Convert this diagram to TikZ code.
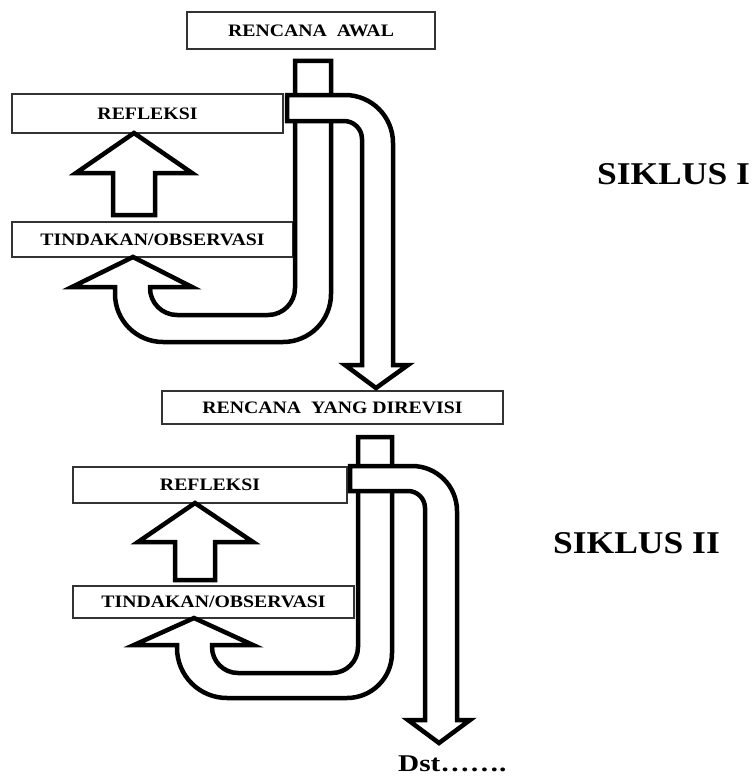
\documentclass[tikz,border=0pt]{standalone}
\usepackage{fontspec}
\setmainfont{Liberation Serif}
\tikzset{
  box/.style={draw=black!80, line width=1.4pt, fill=white, inner sep=0pt,
    text height=11.6pt, text depth=0pt, font=\bfseries\fontsize{17.5}{20}\selectfont},
  pipe/.style={draw=black, line width=4.5pt, fill=white, line join=miter},
  cyclelabel/.style={inner sep=0pt, text height=21pt, text depth=0pt,
    font=\bfseries\fontsize{31.7}{36}\selectfont},
  endlabel/.style={inner sep=0pt, text height=16pt, text depth=0pt,
    font=\bfseries\fontsize{24}{28}\selectfont},
}
\newcommand{\wide}[2]{\scalebox{#1}[1]{#2}}
\begin{document}
\begin{tikzpicture}[x=1pt,y=1pt]
\useasboundingbox (0,0) rectangle (752,-776);

% ---------- boxes ----------
\node[box, minimum width=248pt, minimum height=37pt] (awal) at (311,-30.5) {\wide{1.13}{RENCANA\ \ AWAL}};
\node[box, minimum width=271pt, minimum height=39pt] (refl1) at (147.5,-113.5) {\wide{1.13}{REFLEKSI}};
\node[box, minimum width=281pt, minimum height=35pt] (tind1) at (152.5,-239.5) {\wide{1.13}{TINDAKAN/OBSERVASI}};
\node[box, minimum width=341pt, minimum height=33pt] (rev) at (332.5,-407.5) {\wide{1.13}{RENCANA\ \ YANG DIREVISI}};
\node[box, minimum width=274pt, minimum height=36pt] (refl2) at (210,-485) {\wide{1.13}{REFLEKSI}};
\node[box, minimum width=281pt, minimum height=32pt] (tind2) at (213.5,-602) {\wide{1.13}{TINDAKAN/OBSERVASI}};

% ---------- cycle I ----------
% up arrow tindakan -> refleksi
\draw[pipe] (113,-215) -- (155,-215) -- (155,-173) -- (192,-173) -- (134,-133)
  -- (76,-173) -- (113,-173) -- cycle;
% J-shaped return arrow
\draw[pipe] (295,-61) -- (331,-61) -- (331,-294)
  arc[start angle=0, end angle=-90, radius=48] -- (163,-342)
  arc[start angle=270, end angle=180, radius=48] -- (115,-287)
  -- (72,-287) -- (133,-257) -- (192,-287) -- (150,-287) -- (150,-288)
  arc[start angle=180, end angle=270, radius=27] -- (268,-315)
  arc[start angle=270, end angle=360, radius=27] -- cycle;
% band and down arrow
\draw[pipe] (287,-95) -- (345,-95)
  arc[start angle=90, end angle=0, radius=48] -- (393,-365)
  -- (408,-365) -- (376,-388) -- (345,-365) -- (362,-365) -- (362,-139)
  arc[start angle=0, end angle=90, radius=18] -- (287,-121) -- cycle;

% ---------- cycle II ----------
\draw[pipe] (175,-580) -- (215,-580) -- (215,-542) -- (253,-542) -- (195,-503)
  -- (138,-542) -- (175,-542) -- cycle;
\draw[pipe] (358,-437) -- (392,-437) -- (392,-653)
  arc[start angle=0, end angle=-90, radius=45] -- (227,-698)
  arc[start angle=270, end angle=180, radius=50] -- (177,-645)
  -- (134,-645) -- (194,-618) -- (253,-645) -- (212,-645) -- (212,-647)
  arc[start angle=180, end angle=270, radius=26] -- (332,-673)
  arc[start angle=270, end angle=360, radius=26] -- cycle;
\draw[pipe] (350,-466) -- (412,-466)
  arc[start angle=90, end angle=0, radius=45] -- (457,-720)
  -- (470,-720) -- (439,-743) -- (408,-720) -- (425,-720) -- (425,-508)
  arc[start angle=0, end angle=90, radius=17] -- (350,-491) -- cycle;

% ---------- labels ----------
\node[cyclelabel] (s1) at (673.5,-173.5) {\wide{1.12}{SIKLUS I}};
\node[cyclelabel] (s2) at (636.5,-542.5) {\wide{1.12}{SIKLUS II}};
\node[endlabel, anchor=base west] (dst) at (398,-771.5) {\wide{1.22}{Dst…….}};
\end{tikzpicture}
\end{document}
